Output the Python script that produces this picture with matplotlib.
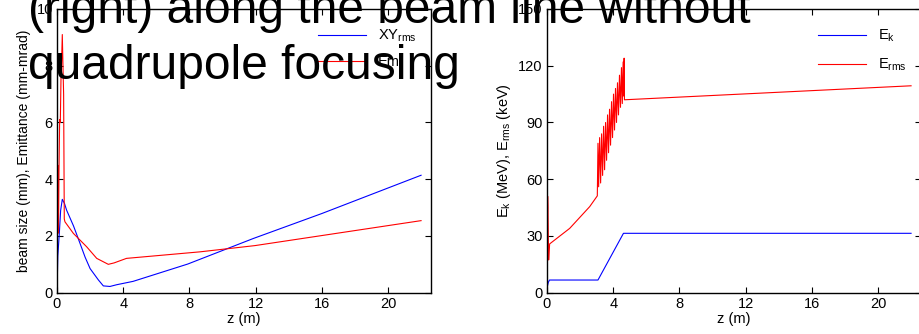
import matplotlib
matplotlib.use("Agg")
import matplotlib.pyplot as plt

plt.rcParams['font.family'] = ['Liberation Sans', 'DejaVu Sans']
plt.rcParams['mathtext.default'] = 'regular'

# Left panel: beam size and emittance
z_xy = [0.0, 0.05, 0.14, 0.22, 0.32, 0.45, 0.58, 1.0, 1.39, 1.7, 2.0, 2.5, 2.8, 3.2, 3.6, 4.6, 7.9, 11.86, 16.0, 22.0]
xy_rms = [0.0, 1.3, 2.09, 2.9, 3.29, 3.15, 2.91, 2.35, 1.74, 1.25, 0.85, 0.45, 0.24, 0.22, 0.28, 0.4, 1.01, 1.91, 2.79, 4.14]

z_em = [0.0, 0.02, 0.04, 0.06, 0.09, 0.12, 0.16, 0.2, 0.24, 0.28, 0.32, 0.36, 0.4, 0.44, 0.48, 0.99, 1.79, 2.4, 3.1, 3.45, 4.2, 8.64, 11.96, 22.0]
em_rms = [0.0, 2.5, 4.5, 2.2, 2.1, 4.3, 6.1, 6.0, 7.5, 8.2, 9.1, 8.0, 7.0, 2.6, 2.5, 2.09, 1.62, 1.21, 1.0, 1.05, 1.21, 1.44, 1.66, 2.54]

# Right panel: kinetic energy and energy spread
z_ek = [0.0, 0.02, 0.08, 0.15, 3.08, 4.62, 22.0]
e_k = [0.0, 3.2, 5.5, 6.7, 6.7, 31.4, 31.4]

z_erms = [0.0, 0.0, 0.02, 0.04, 0.06, 0.08, 0.1, 0.13, 0.16, 1.37, 2.58, 3.04,
          3.08, 3.12, 3.18, 3.24, 3.30, 3.36, 3.42, 3.48, 3.54, 3.60, 3.66, 3.72,
          3.78, 3.84, 3.90, 3.96, 4.02, 4.08, 4.14, 4.20, 4.26, 4.32, 4.38, 4.44,
          4.50, 4.55, 4.60, 4.63, 4.66, 4.68, 22.0]
e_rms = [0.0, 101.0, 36.0, 51.0, 45.0, 30.0, 17.3, 22.0, 25.8, 34.0, 45.5, 51.2,
         79.0, 56.0, 82.0, 58.0, 84.0, 62.0, 88.0, 65.0, 90.0, 70.0, 94.0, 74.0,
         97.0, 78.0, 101.0, 82.0, 105.0, 86.0, 108.0, 90.0, 111.0, 94.0, 115.0, 98.0,
         119.0, 100.0, 122.0, 104.0, 124.0, 102.0, 109.4]

x_ticks = [0, 4, 8, 12, 16, 20]
left_yticks = [0, 2, 4, 6, 8, 10]
right_yticks = [0, 30, 60, 90, 120, 150]

W, H = 920, 334
fig = plt.figure(figsize=(W / 100, H / 100), dpi=100)

def style(ax):
    ax.tick_params(direction='in', top=True, right=True, length=4, width=0.8,
                   labelsize=10.5, pad=3)
    for s in ax.spines.values():
        s.set_linewidth(1.0)

ax1 = fig.add_axes([57 / W, 41.3 / H, 374 / W, 283.7 / H])
ax1.plot(z_xy, xy_rms, color='#0000ff', lw=0.8, label='XY$_{rms}$')
ax1.plot(z_em, em_rms, color='#ff0000', lw=0.8, label='Em')
ax1.set_xlim(0, 22.6)
ax1.set_ylim(0, 10)
ax1.set_xticks(x_ticks)
ax1.set_yticks(left_yticks)
ax1.set_xlabel('z (m)', fontsize=10.5, labelpad=1)
ax1.set_ylabel('beam size (mm), Emittance (mm-mrad)', fontsize=10, labelpad=4)
style(ax1)
ax1.legend(loc='upper right', frameon=False, fontsize=10.5, handlelength=3.3,
           borderaxespad=0.6, labelspacing=0.75, bbox_to_anchor=(1.0, 0.985))

ax2 = fig.add_axes([547 / W, 41.3 / H, 374 / W, 283.7 / H])
ax2.plot(z_ek, e_k, color='#0000ff', lw=0.8, label='E$_k$')
ax2.plot(z_erms, e_rms, color='#ff0000', lw=0.8, label='E$_{rms}$')
ax2.set_xlim(0, 22.6)
ax2.set_ylim(0, 150)
ax2.set_xticks(x_ticks)
ax2.set_yticks(right_yticks)
ax2.set_xlabel('z (m)', fontsize=10.5, labelpad=1)
ax2.set_ylabel('E$_k$ (MeV), E$_{rms}$ (keV)', fontsize=10.5, labelpad=4)
style(ax2)
ax2.legend(loc='upper right', frameon=False, fontsize=10.5, handlelength=3.3,
           borderaxespad=0.6, labelspacing=0.85, bbox_to_anchor=(1.0, 0.985))

fig.text(28 / W, 1 - 23 / H, '(right) along the beam line without',
         fontsize=34.5, va='baseline', ha='left', zorder=10)
fig.text(28 / W, 1 - 79 / H, 'quadrupole focusing',
         fontsize=34.5, va='baseline', ha='left', zorder=10)

fig.savefig('out.png', dpi=100)
